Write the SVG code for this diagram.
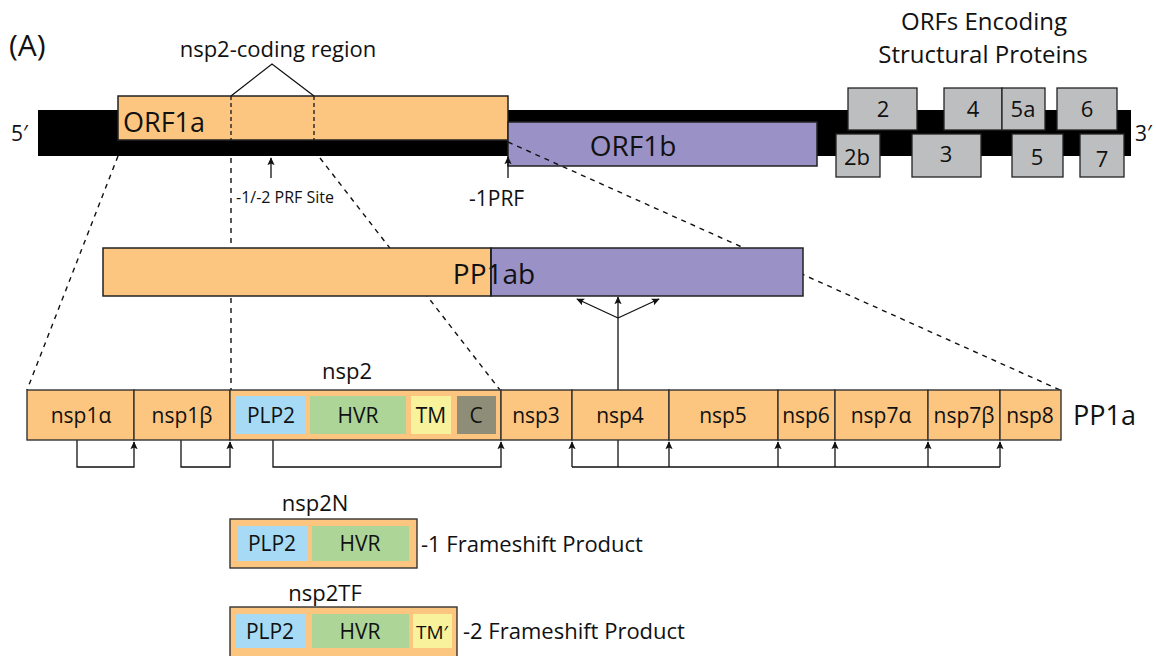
<svg xmlns="http://www.w3.org/2000/svg" width="1156" height="656" viewBox="0 0 1156 656">
<style>
text{font-family:"Open Sans","Liberation Sans",sans-serif;fill:#111}
.or{fill:#FDC680;stroke:#222;stroke-width:1.5}
.pu{fill:#9A91C7;stroke:#222;stroke-width:1.5}
.gr{fill:#BDBEC0;stroke:#222;stroke-width:1.3}
.cell{fill:#FDC680;stroke:#333;stroke-width:1.4}
.plp{fill:#A6DAF5}.hvr{fill:#AED598}.tm{fill:#F7F29B}.cc{fill:#8E8E78}
.dash{fill:none;stroke:#111;stroke-width:1.4;stroke-dasharray:5 5}
.ln{fill:none;stroke:#111;stroke-width:1.3}
.ar{fill:none;stroke:#111;stroke-width:1.3;marker-end:url(#ah)}
.m{text-anchor:middle}
.s21{font-size:21px}
.s22{font-size:22px}
</style>
<defs>
<marker id="ah" viewBox="0 0 10 10" refX="9" refY="5" markerWidth="8" markerHeight="8" markerUnits="userSpaceOnUse" orient="auto">
<path d="M0,0.5 L10,5 L0,9.5 L2,5 Z" fill="#111"/>
</marker>
</defs>

<text x="9" y="56" style="font-size:30px">(A)</text>

<g id="genome">
<rect x="38" y="110" width="1093" height="46" fill="#000"/>
<text x="11" y="141" style="font-size:21px">5′</text>
<text x="1135" y="141" style="font-size:21px">3′</text>
</g>

<g id="orf1a">
<rect class="or" x="118" y="96" width="390" height="44"/>
<line x1="231" y1="96" x2="231" y2="140" stroke="#222" stroke-width="1.4" stroke-dasharray="4 3"/>
<line x1="314" y1="96" x2="314" y2="140" stroke="#222" stroke-width="1.4" stroke-dasharray="4 3"/>
<text x="123" y="132" style="font-size:27px">ORF1a</text>
</g>
<text class="m s22" x="278" y="57">nsp2-coding region</text>
<text x="236" y="203" style="font-size:16px">-1/-2 PRF Site</text>
<text x="469" y="206" style="font-size:21px">-1PRF</text>

<g id="orf1b">
<rect class="pu" x="508" y="122" width="309" height="44"/>
<text class="m" x="633" y="156" style="font-size:28px">ORF1b</text>
</g>

<text class="m" x="984" y="30" style="font-size:24px">ORFs Encoding</text>
<text class="m" x="983" y="63" style="font-size:24px">Structural Proteins</text>

<g id="orf2"><rect class="gr" x="848" y="88" width="69" height="42"/><text class="m s22" x="883" y="117">2</text></g>
<g id="orf4"><rect class="gr" x="944" y="88" width="58" height="42"/><text class="m s22" x="973" y="117">4</text></g>
<g id="orf5a"><rect class="gr" x="1002" y="88" width="43" height="42"/><text class="m s22" x="1023" y="117">5a</text></g>
<g id="orf6"><rect class="gr" x="1057" y="88" width="60" height="42"/><text class="m s22" x="1087" y="117">6</text></g>
<g id="orf2b"><rect class="gr" x="836" y="134" width="44" height="43"/><text class="m s22" x="857" y="165">2b</text></g>
<g id="orf3"><rect class="gr" x="912" y="134" width="69" height="43"/><text class="m s22" x="946" y="162">3</text></g>
<g id="orf5"><rect class="gr" x="1012" y="134" width="51" height="43"/><text class="m s22" x="1037" y="165">5</text></g>
<g id="orf7"><rect class="gr" x="1080" y="134" width="44" height="43"/><text class="m s22" x="1102" y="167">7</text></g>

<g id="connectors">
<line class="dash" x1="118" y1="156" x2="27" y2="390"/>
<line class="dash" x1="231" y1="158" x2="231" y2="390"/>
<line class="dash" x1="320" y1="158" x2="500" y2="390"/>
<line class="dash" x1="508" y1="142" x2="1060" y2="390"/>
<path class="ln" d="M231,96 L272,64 L314,96"/>
<line class="ar" x1="271" y1="178" x2="271" y2="158"/>
<line class="ar" x1="508" y1="178" x2="508" y2="157"/>
<line class="ar" x1="618" y1="390" x2="618" y2="297"/>
<line class="ar" x1="618" y1="318" x2="577" y2="299"/>
<line class="ar" x1="618" y1="318" x2="659" y2="299"/>
<path class="ar" d="M77,440 V467 H134 V442"/>
<path class="ar" d="M181,440 V467 H230 V442"/>
<path class="ar" d="M273,440 V467 H501 V442"/>
<path class="ln" d="M618,440 V467 M572,467 H1000"/>
<line class="ar" x1="572" y1="467" x2="572" y2="442"/>
<line class="ar" x1="669" y1="467" x2="669" y2="442"/>
<line class="ar" x1="778" y1="467" x2="778" y2="442"/>
<line class="ar" x1="835" y1="467" x2="835" y2="442"/>
<line class="ar" x1="928" y1="467" x2="928" y2="442"/>
<line class="ar" x1="1000" y1="467" x2="1000" y2="442"/>
</g>

<g id="pp1ab">
<rect class="or" x="103" y="248" width="388" height="48"/>
<rect class="pu" x="491" y="248" width="312" height="48"/>
<text class="m" x="494" y="284" style="font-size:28px">PP1ab</text>
<line x1="491" y1="248" x2="491" y2="296" stroke="#222" stroke-width="1.5"/>
</g>

<g id="pp1a">
<rect class="cell" x="27" y="390" width="107" height="50"/>
<rect class="cell" x="134" y="390" width="96" height="50"/>
<rect class="cell" x="230" y="390" width="271" height="50"/>
<rect class="plp" x="236" y="396" width="70" height="38"/>
<rect class="hvr" x="310" y="396" width="96" height="38"/>
<rect class="tm" x="411" y="396" width="40" height="38"/>
<rect class="cc" x="457" y="396" width="39" height="38"/>
<rect class="cell" x="501" y="390" width="71" height="50"/>
<rect class="cell" x="572" y="390" width="97" height="50"/>
<rect class="cell" x="669" y="390" width="109" height="50"/>
<rect class="cell" x="778" y="390" width="57" height="50"/>
<rect class="cell" x="835" y="390" width="93" height="50"/>
<rect class="cell" x="928" y="390" width="72" height="50"/>
<rect class="cell" x="1000" y="390" width="61" height="50"/>
<g class="s21">
<text class="m" x="81" y="423">nsp1α</text>
<text class="m" x="182" y="423">nsp1β</text>
<text class="m" x="271" y="423">PLP2</text>
<text class="m" x="358" y="423">HVR</text>
<text class="m" x="431" y="423">TM</text>
<text class="m" x="476" y="423">C</text>
<text class="m" x="536" y="423">nsp3</text>
<text class="m" x="620" y="423">nsp4</text>
<text class="m" x="723" y="423">nsp5</text>
<text class="m" x="806" y="423">nsp6</text>
<text class="m" x="881" y="423">nsp7α</text>
<text class="m" x="964" y="423">nsp7β</text>
<text class="m" x="1030" y="423">nsp8</text>
</g>
<text class="m s22" x="347" y="379">nsp2</text>
<text x="1073" y="425" style="font-size:27px">PP1a</text>
</g>

<g id="nsp2N">
<text class="m s22" x="315" y="511">nsp2N</text>
<rect class="cell" x="230" y="519" width="187" height="49"/>
<rect class="plp" x="237" y="526" width="70" height="35"/>
<rect class="hvr" x="312" y="526" width="97" height="35"/>
<text class="m s21" x="272" y="551">PLP2</text>
<text class="m s21" x="360" y="551">HVR</text>
<text x="421" y="552" style="font-size:22px">-1 Frameshift Product</text>
</g>

<g id="nsp2TF">
<text class="m s22" x="325" y="601">nsp2TF</text>
<rect class="cell" x="230" y="607" width="227" height="52"/>
<rect class="plp" x="235" y="614" width="70" height="34"/>
<rect class="hvr" x="312" y="614" width="97" height="34"/>
<rect class="tm" x="413" y="614" width="39" height="34"/>
<text class="m s21" x="270" y="639">PLP2</text>
<text class="m s21" x="360" y="639">HVR</text>
<text class="m" x="432" y="639" style="font-size:19px">TM′</text>
<text x="463" y="639" style="font-size:22px">-2 Frameshift Product</text>
</g>
</svg>
